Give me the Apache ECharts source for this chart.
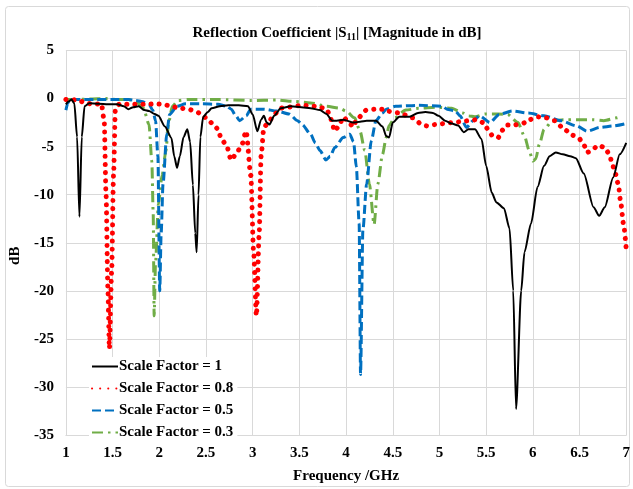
<!DOCTYPE html>
<html>
<head>
<meta charset="utf-8">
<script src="https://cdn.jsdelivr.net/npm/echarts@6/dist/echarts.min.js"></script>
<style>
html,body{margin:0;padding:0;background:#fff;}
#c{width:633px;height:489px;}
</style>
</head>
<body>
<div id="c"></div>
<script>
// ---- data ----
const seriesNames = ['Scale Factor = 1', 'Scale Factor = 0.8', 'Scale Factor = 0.5', 'Scale Factor = 0.3'];
const xTicks = ['1','1.5','2','2.5','3','3.5','4','4.5','5','5.5','6','6.5','7'];
const yTicks = ['5','0','-5','-10','-15','-20','-25','-30','-35'];

const sf1Freq = [1.00,1.03,1.06,1.09,1.12,1.145,1.17,1.20,1.25,1.35,1.45,1.55,1.62,1.67,1.72,1.78,1.84,1.89,1.95,1.99,2.06,2.13,2.16,2.19,2.22,2.26,2.30,2.33,2.36,2.385,2.40,2.42,2.44,2.47,2.52,2.56,2.65,2.74,2.85,2.95,3.00,3.05,3.09,3.12,3.15,3.18,3.23,3.30,3.41,3.52,3.62,3.72,3.79,3.85,3.90,3.97,4.08,4.15,4.22,4.32,4.39,4.43,4.46,4.50,4.57,4.68,4.77,4.85,4.93,4.99,5.06,5.13,5.20,5.26,5.31,5.38,5.45,5.50,5.56,5.61,5.69,5.75,5.79,5.82,5.875,5.91,5.98,6.05,6.12,6.18,6.245,6.32,6.40,6.46,6.545,6.65,6.71,6.77,6.86,6.93,7.00];
const sf1Db   = [-0.6,-0.3,-0.1,-0.5,-4,-12.3,-4,-0.8,-0.5,-0.55,-0.6,-0.6,-0.8,-1.1,-0.9,-0.8,-1.2,-1.3,-1.6,-1.8,-2.9,-4.1,-6,-7.2,-6,-4,-3.2,-4.5,-9,-14,-16,-10,-4,-1.9,-1.4,-1.0,-0.8,-0.7,-0.7,-0.8,-1.65,-3.4,-2.2,-1.8,-2.5,-2.7,-1.8,-1.0,-0.8,-0.9,-1.0,-1.2,-1.6,-2.3,-2.3,-2.2,-2.5,-2.4,-2.3,-2.3,-2.9,-3.9,-4.05,-2.5,-1.9,-1.9,-1.5,-1.4,-1.5,-1.8,-2.3,-2.6,-2.8,-3.5,-3.2,-3.2,-4.2,-7,-9.8,-10.8,-11.4,-13.5,-20,-32.3,-20,-16,-13,-9.2,-7.0,-6.0,-5.6,-5.8,-6.0,-6.2,-7.8,-11.3,-12.2,-11.3,-8.2,-5.8,-4.6];

const sf08Freq = [1.00,1.05,1.11,1.20,1.29,1.38,1.41,1.43,1.45,1.466,1.49,1.51,1.53,1.57,1.70,1.87,1.96,2.05,2.12,2.22,2.31,2.38,2.45,2.52,2.58,2.63,2.66,2.72,2.77,2.82,2.88,2.93,2.98,3.01,3.04,3.07,3.09,3.12,3.18,3.23,3.30,3.37,3.53,3.69,3.79,3.83,3.85,3.88,3.93,3.97,4.02,4.08,4.11,4.22,4.31,4.39,4.43,4.57,4.71,4.82,4.87,4.96,5.05,5.13,5.24,5.31,5.40,5.47,5.52,5.57,5.63,5.66,5.72,5.80,5.89,5.96,6.05,6.14,6.23,6.35,6.42,6.49,6.545,6.58,6.63,6.70,6.77,6.82,6.845,6.88,6.915,6.94,6.97,7.00];
const sf08Db   = [-0.1,-0.2,-0.1,-0.4,-0.6,-0.55,-2.3,-10,-20,-26,-18,-8,-1.1,-0.6,-0.6,-0.6,-0.55,-0.6,-0.8,-1.0,-1.1,-1.3,-1.6,-2.2,-2.7,-3.2,-4.1,-4.9,-6.4,-5.8,-4.9,-3.4,-8,-16,-22.6,-14,-6,-3.0,-2.3,-1.65,-1.0,-0.9,-0.7,-0.8,-1.1,-1.8,-2.6,-3.4,-2.7,-1.9,-2.4,-2.95,-2.2,-1.2,-1.1,-1.1,-1.3,-1.5,-2.0,-2.75,-2.85,-2.7,-2.6,-2.5,-2.4,-2.3,-2.2,-2.5,-3.2,-3.9,-4.05,-3.4,-2.75,-2.75,-2.6,-2.2,-1.9,-2.0,-2.3,-3.3,-3.8,-4.1,-4.8,-5.6,-5.4,-4.85,-5.1,-5.8,-6.6,-7.7,-8.9,-10.75,-13,-15.7];

const sf05Freq = [1.00,1.02,1.04,1.15,1.32,1.50,1.67,1.75,1.81,1.89,1.93,1.96,1.985,2.005,2.02,2.04,2.08,2.11,2.19,2.28,2.45,2.63,2.72,2.77,2.82,2.86,2.93,2.98,3.12,3.26,3.39,3.48,3.53,3.62,3.67,3.72,3.785,3.83,3.88,3.97,4.04,4.08,4.11,4.14,4.155,4.18,4.22,4.27,4.32,4.39,4.43,4.53,4.78,5.03,5.08,5.17,5.22,5.29,5.36,5.43,5.54,5.64,5.78,5.95,6.12,6.30,6.47,6.58,6.72,6.86,7.00];
const sf05Db   = [-1.2,-0.5,-0.1,-0.1,-0.1,-0.1,-0.1,-0.2,-0.3,-0.6,-1.2,-2.3,-6,-20,-14,-8.9,-3.7,-1.65,-0.8,-0.55,-0.55,-0.6,-0.8,-1.1,-1.8,-2.3,-1.8,-1.1,-1.1,-1.3,-1.6,-2.3,-2.7,-3.7,-4.6,-5.4,-6.4,-6.0,-5.1,-4.05,-3.7,-4.5,-7.1,-13,-28.7,-13.7,-8.9,-4.4,-2.3,-1.5,-1.1,-0.8,-0.7,-0.8,-1.1,-1.3,-1.8,-3.0,-2.3,-1.8,-2.5,-1.65,-1.3,-1.5,-1.8,-2.3,-2.85,-3.4,-3.0,-2.85,-2.6];

const sf03Freq = [1.00,1.10,1.25,1.43,1.55,1.67,1.75,1.83,1.89,1.92,1.935,1.945,1.96,1.99,2.03,2.07,2.10,2.14,2.20,2.31,2.63,2.98,3.26,3.44,3.62,3.79,3.93,4.00,4.09,4.15,4.20,4.25,4.30,4.34,4.39,4.43,4.46,4.52,4.64,4.78,4.96,5.13,5.25,5.31,5.38,5.49,5.63,5.73,5.84,5.91,5.96,6.00,6.03,6.07,6.12,6.21,6.33,6.47,6.65,6.76,6.90,6.93];
const sf03Db   = [-0.1,-0.1,-0.05,0,-0.1,-0.1,-0.3,-1.0,-2.7,-6.5,-12,-22.6,-17,-11,-8,-5.5,-2.5,-0.8,-0.2,-0.1,-0.1,-0.2,-0.15,-0.3,-0.45,-0.8,-1.0,-1.3,-2.0,-3.4,-5.4,-8.9,-13.1,-8.9,-5.8,-4.05,-2.8,-2.0,-1.2,-1.0,-0.9,-1.0,-1.5,-1.8,-1.9,-1.6,-1.6,-1.65,-2.5,-3.9,-5.4,-6.5,-6.3,-4.75,-3.2,-2.3,-2.2,-2.2,-2.2,-2.3,-2.0,-1.9];

function pairs(xs, ys){ return xs.map((x,i)=>[x, ys[i]]); }

const FONT = '"Liberation Serif", "Times New Roman", serif';
const chart = echarts.init(document.getElementById('c'), null, {renderer:'canvas'});

const common = {type:'line', symbol:'none', smooth:0.25, smoothMonotone:'x'};

chart.setOption({
  animation:false,
  backgroundColor:'#fff',
  graphic:[{
    type:'rect', shape:{x:5.5,y:6.5,width:624,height:480,r:3},
    style:{fill:'none', stroke:'#d9d9d9', lineWidth:1}, silent:true, z:-1
  }],
  title:{
    text:'{a|Reflection Coefficient |S}{s|11}{a|| [Magnitude in dB]}',
    left:332, top:20, textAlign:'center',
    textStyle:{
      rich:{
        a:{fontFamily:FONT, fontWeight:'bold', fontSize:15, color:'#000'},
        s:{fontFamily:FONT, fontWeight:'bold', fontSize:10, color:'#000', padding:[7,0,0,0]}
      }
    }
  },
  grid:{left:61, right:5, top:50.5, bottom:49, containLabel:false},
  legend:{
    orient:'vertical', left:89, top:357,
    itemWidth:26, itemHeight:14, itemGap:7,
    backgroundColor:'#fff', padding:[2,4,2,2],
    itemStyle:{color:'rgba(0,0,0,0)', borderColor:'rgba(0,0,0,0)', borderWidth:0, opacity:0},
    textStyle:{fontFamily:FONT, fontWeight:'bold', fontSize:15, color:'#000', padding:[0,0,0,-4]},
    data:seriesNames
  },
  xAxis:{
    type:'value', min:1, max:7, interval:0.5,
    name:'Frequency /GHz', nameLocation:'middle', nameGap:34,
    nameTextStyle:{fontFamily:FONT, fontWeight:'bold', fontSize:15, color:'#000'},
    axisLine:{show:true, onZero:false, lineStyle:{color:'#d9d9d9'}},
    axisTick:{show:false},
    axisLabel:{fontFamily:FONT, fontWeight:'bold', fontSize:15, color:'#000', margin:11,
      formatter:(v)=>{ const i=Math.round((v-1)/0.5); return xTicks[i]!==undefined?xTicks[i]:''; }},
    splitLine:{show:true, lineStyle:{color:'#d9d9d9', width:1}}
  },
  yAxis:{
    type:'value', min:-35, max:5, interval:5,
    name:'dB', nameLocation:'middle', nameGap:35,
    nameTextStyle:{fontFamily:FONT, fontWeight:'bold', fontSize:15, color:'#000', padding:[0,26,0,0]},
    axisLine:{show:true, lineStyle:{color:'#d9d9d9'}},
    axisTick:{show:false},
    axisLabel:{fontFamily:FONT, fontWeight:'bold', fontSize:15, color:'#000', margin:12,
      formatter:(v)=>{ const i=Math.round((5-v)/5); return yTicks[i]!==undefined?yTicks[i]:''; }},
    splitLine:{show:true, lineStyle:{color:'#d9d9d9', width:1}}
  },
  series:[
    Object.assign({}, common, {name:seriesNames[0], data:pairs(sf1Freq, sf1Db), z:5,
      lineStyle:{color:'#000000', width:2}, itemStyle:{color:'#000000'}}),
    Object.assign({}, common, {name:seriesNames[1], data:pairs(sf08Freq, sf08Db), z:4,
      lineStyle:{color:'#ff0000', width:5, type:[0.1,8], cap:'round'}, itemStyle:{color:'#ff0000'}}),
    Object.assign({}, common, {name:seriesNames[2], data:pairs(sf05Freq, sf05Db), z:3,
      lineStyle:{color:'#0070c0', width:3, type:[9,4]}, itemStyle:{color:'#0070c0'}}),
    Object.assign({}, common, {name:seriesNames[3], data:pairs(sf03Freq, sf03Db), z:2,
      lineStyle:{color:'#70ad47', width:3, type:[11,5,2.5,5]}, itemStyle:{color:'#70ad47'}})
  ]
});
</script>
</body>
</html>
